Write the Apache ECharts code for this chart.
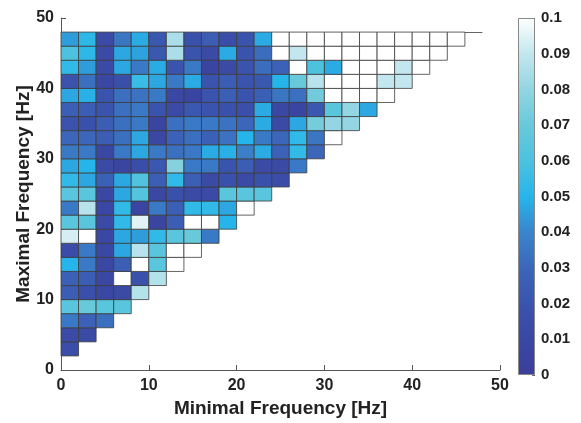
<!DOCTYPE html>
<html>
<head>
<meta charset="utf-8">
<script src="https://cdn.jsdelivr.net/npm/echarts@6/dist/echarts.min.js"></script>
<style>
  html, body { margin: 0; padding: 0; background: #fff; }
  #chart { width: 581px; height: 423px; }
</style>
</head>
<body>
<div id="chart"></div>
<script>
// bin width in Hz, each row = one maximal-frequency bin (bottom edge in Hz)
var binWidth = 2;
var rowStarts = [2, 4, 6, 8, 10, 12, 14, 16, 18, 20, 22, 24, 26, 28, 30, 32, 34, 36, 38, 40, 42, 44, 46];

// values per row, from minimal frequency 0 upward
var row02 = [0.015];
var row04 = [0.012, 0.012];
var row06 = [0.036, 0.028, 0.033];
var row08 = [0.065, 0.07, 0.065, 0.065];
var row10 = [0.025, 0.016, 0.01, 0.012, 0.087];
var row12 = [0.027, 0.025, 0.01, 0.1, 0.018, 0.087];
var row14 = [0.05, 0.036, 0.01, 0.026, 0.1, 0.065, 0.1];
var row16 = [0.014, 0.036, 0.01, 0.047, 0.088, 0.065, 0.1, 0.1];
var row18 = [0.093, 0.1, 0.01, 0.047, 0.045, 0.053, 0.065, 0.07, 0.036];
var row20 = [0.065, 0.065, 0.012, 0.053, 0.095, 0.008, 0.025, 0.1, 0.1, 0.05];
var row22 = [0.036, 0.088, 0.01, 0.053, 0.008, 0.036, 0.026, 0.053, 0.053, 0.047, 0.1];
var row24 = [0.065, 0.065, 0.01, 0.047, 0.063, 0.01, 0.018, 0.012, 0.012, 0.065, 0.065, 0.065];
var row26 = [0.053, 0.047, 0.027, 0.047, 0.062, 0.026, 0.053, 0.026, 0.012, 0.018, 0.012, 0.018, 0.014];
var row28 = [0.047, 0.05, 0.012, 0.008, 0.015, 0.022, 0.077, 0.036, 0.036, 0.02, 0.025, 0.012, 0.012, 0.036];
var row30 = [0.036, 0.036, 0.01, 0.036, 0.047, 0.036, 0.033, 0.036, 0.048, 0.049, 0.038, 0.048, 0.028, 0.053, 0.03];
var row32 = [0.03, 0.03, 0.025, 0.033, 0.047, 0.01, 0.028, 0.033, 0.027, 0.034, 0.05, 0.036, 0.03, 0.053, 0.035, 0.1];
var row34 = [0.02, 0.018, 0.025, 0.033, 0.036, 0.008, 0.033, 0.036, 0.036, 0.034, 0.03, 0.048, 0.012, 0.047, 0.073, 0.08, 0.08];
var row36 = [0.026, 0.025, 0.02, 0.033, 0.036, 0.02, 0.012, 0.022, 0.02, 0.018, 0.016, 0.048, 0.01, 0.008, 0.022, 0.065, 0.08, 0.047];
var row38 = [0.047, 0.049, 0.02, 0.033, 0.034, 0.036, 0.01, 0.008, 0.02, 0.026, 0.02, 0.026, 0.035, 0.033, 0.072, 0.1, 0.1, 0.1, 0.1];
var row40 = [0.02, 0.033, 0.01, 0.016, 0.055, 0.047, 0.036, 0.048, 0.02, 0.025, 0.02, 0.022, 0.05, 0.07, 0.088, 0.1, 0.1, 0.1, 0.09, 0.09];
var row42 = [0.053, 0.045, 0.012, 0.047, 0.036, 0.048, 0.02, 0.036, 0.008, 0.012, 0.02, 0.032, 0.028, 0.1, 0.06, 0.048, 0.1, 0.1, 0.1, 0.09, 0.1];
var row44 = [0.06, 0.052, 0.012, 0.047, 0.046, 0.022, 0.085, 0.02, 0.012, 0.048, 0.02, 0.032, 0.1, 0.09, 0.1, 0.1, 0.1, 0.1, 0.1, 0.1, 0.1, 0.1];
var row46 = [0.045, 0.052, 0.012, 0.035, 0.048, 0.022, 0.085, 0.018, 0.025, 0.015, 0.02, 0.048, 0.1, 0.1, 0.1, 0.1, 0.1, 0.1, 0.1, 0.1, 0.1, 0.1, 0.1];

var colorbarMin = 0, colorbarMax = 0.1, colorbarStep = 0.01;

// colormap, evenly spaced from 0 to 0.1
var cmap = ['#3a3f9b', '#3a47a3', '#3a54ae', '#3b66ba', '#3a85cc', '#26b5ea',
            '#4cc2df', '#68c9da', '#93d5e2', '#c2e7ee', '#ffffff'];

var rows = [row02, row04, row06, row08, row10, row12, row14, row16, row18, row20, row22, row24,
            row26, row28, row30, row32, row34, row36, row38, row40, row42, row44, row46];

var cells = [];
rows.forEach(function (row, r) {
    row.forEach(function (v, c) {
        cells.push([c * binWidth, rowStarts[r], v]);
    });
});

var font = 'Liberation Sans, Arial, sans-serif';
var axisColor = '#555';

var chart = echarts.init(document.getElementById('chart'));

var option = {
    animation: false,
    grid: [
        { left: 61, top: 18, width: 439, height: 357 },
        { left: 518, top: 18, width: 17, height: 357 }
    ],
    visualMap: {
        show: false,
        type: 'continuous',
        min: colorbarMin,
        max: colorbarMax,
        dimension: 2,
        seriesIndex: 0,
        inRange: { color: cmap }
    },
    xAxis: [
        {
            gridIndex: 0,
            type: 'value',
            min: 0, max: 50, interval: 10,
            name: 'Minimal Frequency [Hz]',
            nameLocation: 'middle',
            nameGap: 29,
            nameMoveOverlap: false,
            nameTextStyle: { fontFamily: font, fontWeight: 'bold', fontSize: 19, color: '#222' },
            axisLine: { lineStyle: { color: axisColor } },
            axisTick: { inside: true, length: 5, lineStyle: { color: axisColor } },
            axisLabel: { fontFamily: font, fontWeight: 'bold', fontSize: 16, color: '#222', margin: 8 },
            splitLine: { show: false }
        },
        {
            gridIndex: 1,
            type: 'category',
            data: ['c'],
            show: false
        }
    ],
    yAxis: [
        {
            gridIndex: 0,
            type: 'value',
            min: 0, max: 50, interval: 10,
            name: 'Maximal Frequency [Hz]',
            nameLocation: 'middle',
            nameGap: 28,
            nameMoveOverlap: false,
            nameTextStyle: { fontFamily: font, fontWeight: 'bold', fontSize: 19, color: '#222' },
            axisLine: { show: true, lineStyle: { color: axisColor } },
            axisTick: { show: true, inside: true, length: 5, lineStyle: { color: axisColor } },
            axisLabel: { fontFamily: font, fontWeight: 'bold', fontSize: 16, color: '#222', margin: 7 },
            splitLine: { show: false }
        },
        {
            gridIndex: 1,
            type: 'value',
            position: 'right',
            min: colorbarMin, max: colorbarMax, interval: colorbarStep,
            axisLine: { show: false },
            axisTick: { show: true, inside: true, length: 3, lineStyle: { color: '#666' } },
            axisLabel: {
                fontFamily: font, fontWeight: 'bold', fontSize: 15, color: '#222', margin: 6,
                formatter: function (v) { return String(+v.toFixed(2)); }
            },
            splitLine: { show: false }
        }
    ],
    series: [
        {
            type: 'custom',
            xAxisIndex: 0,
            yAxisIndex: 0,
            encode: { x: 0, y: 1 },
            data: cells,
            renderItem: function (params, api) {
                var x = api.value(0), y = api.value(1);
                var p0 = api.coord([x, y + binWidth]);
                var p1 = api.coord([x + binWidth, y]);
                return {
                    type: 'rect',
                    shape: { x: p0[0], y: p0[1], width: p1[0] - p0[0], height: p1[1] - p0[1] },
                    style: { fill: api.visual('color'), stroke: '#3c3c3c', lineWidth: 0.8 }
                };
            },
            markLine: {
                silent: true,
                symbol: 'none',
                label: { show: false },
                lineStyle: { color: '#3c3c3c', width: 0.8, type: 'solid' },
                data: [[{ coord: [46, 48] }, { coord: [48, 48] }]]
            }
        },
        {
            // colorbar
            type: 'bar',
            xAxisIndex: 1,
            yAxisIndex: 1,
            barWidth: '100%',
            silent: true,
            data: [colorbarMax],
            itemStyle: {
                borderColor: '#888',
                borderWidth: 1,
                color: new echarts.graphic.LinearGradient(0, 1, 0, 0, cmap.map(function (c, i) {
                    return { offset: i / (cmap.length - 1), color: c };
                }))
            }
        }
    ]
};

option && chart.setOption(option);
</script>
</body>
</html>
